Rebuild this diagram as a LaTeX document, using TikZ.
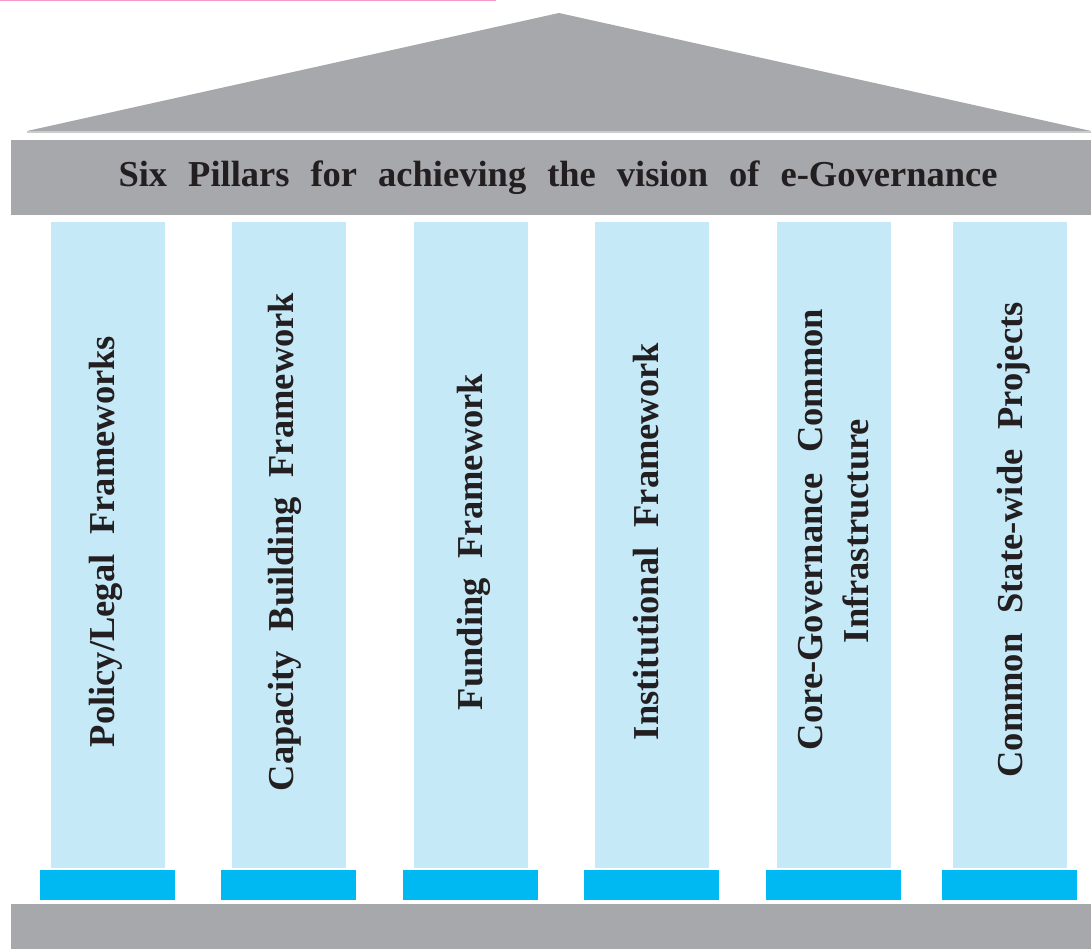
\documentclass[tikz,border=0pt]{standalone}
\usepackage{fontspec}
\setmainfont{Liberation Serif}
\definecolor{roofgray}{HTML}{A7A8AC}
\definecolor{pillarblue}{HTML}{C6E9F8}
\definecolor{basecyan}{HTML}{00B9F2}
\definecolor{pinkline}{HTML}{F39BCB}
\definecolor{inkdark}{HTML}{231F20}
\begin{document}
\begin{tikzpicture}[x=1pt,y=-1pt,
  bigtext/.style={font=\bfseries\fontsize{36.5}{40}\selectfont, text=inkdark, inner sep=0pt},
  pillarlabel/.style={bigtext, rotate=90, anchor=base},
  pillarshape/.style={fill=pillarblue},
  baseshape/.style={fill=basecyan},
  bandshape/.style={fill=roofgray}]
\useasboundingbox (0,0) rectangle (1091,949);
% pink rule at top
\fill[pinkline] (0,0) rectangle (496,1.5);
% roof
\fill[roofgray] (27,131) -- (559,13) -- (1091,131) -- cycle;
\fill[roofgray!60] (27,131) rectangle (1091,133);
% architrave band
\fill[bandshape] (11,140) rectangle (1091,215);
\node[bigtext, anchor=base] (title) at (558,187)
  {\spaceskip=21pt plus 0pt minus 0pt Six Pillars for achieving the vision of e-Governance};
% pillars and bases
\foreach \px/\nm in {51/p1,232/p2,414/p3,595/p4,777/p5,953/p6}{
  \fill[pillarshape] (\px,222) rectangle ++(114,646);
  \fill[baseshape] (\px-11,870) rectangle ++(135,30);
}
% bottom band
\fill[bandshape] (11,904) rectangle (1091,949);
% labels
\begin{scope}[every node/.append style={execute at begin node={\spaceskip=20pt plus 0pt minus 0pt}}]
\node[pillarlabel] (l1) at (114,541.5) {Policy/Legal Frameworks};
\node[pillarlabel] (l2) at (293,542) {Capacity Building Framework};
\node[pillarlabel] (l3) at (482,542) {Funding Framework};
\node[pillarlabel] (l4) at (658,541.5) {Institutional Framework};
\node[pillarlabel] (l5a) at (822,529.5) {Core-Governance Common};
\node[pillarlabel] (l5b) at (868,531) {Infrastructure};
\node[pillarlabel] (l6) at (1022,540) {Common State-wide Projects};
\end{scope}
\end{tikzpicture}
\end{document}
